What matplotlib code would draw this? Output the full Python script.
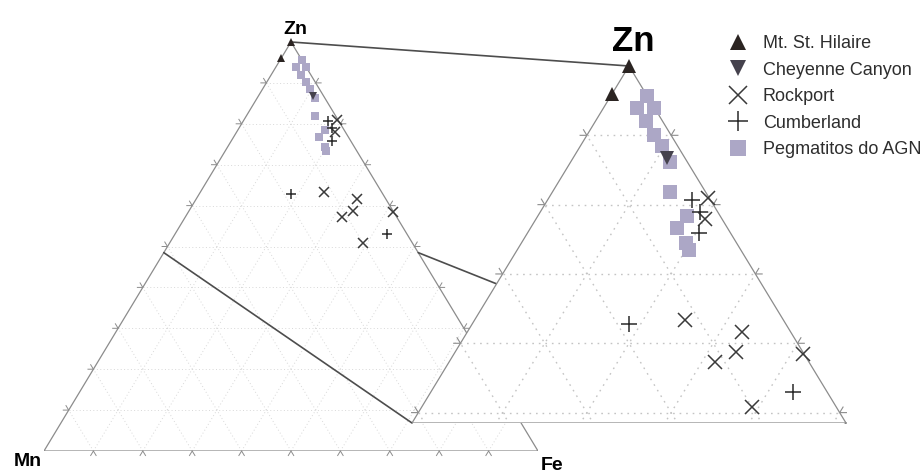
import numpy as np
import matplotlib.pyplot as plt
from matplotlib.lines import Line2D
from matplotlib.patches import Polygon, ConnectionPatch

plt.rcParams['font.family'] = ['Liberation Sans', 'DejaVu Sans']

# gahnite compositions, mol % (Zn, Fe, Mn)
hilaire_zn = [100.0, 96.0]
hilaire_fe = [0.0, 0.0]
hilaire_mn = [0.0, 4.0]

cheyenne_zn = [86.8]
cheyenne_fe = [11.1]
cheyenne_mn = [2.1]

rockport_zn = [81.0, 78.0, 63.3, 61.6, 58.7, 57.3, 58.4, 50.8]
rockport_fe = [18.9, 20.0, 25.0, 32.6, 33.3, 31.6, 41.4, 39.2]
rockport_mn = [0.1, 2.0, 11.7, 5.8, 8.0, 11.1, 0.2, 10.0]

cumberland_zn = [80.6, 79.0, 75.9, 62.8, 53.0]
cumberland_fe = [17.2, 18.9, 20.3, 18.6, 43.0]
cumberland_mn = [2.2, 2.1, 3.8, 18.6, 4.0]

agn_zn = [95.7, 94.0, 94.0, 92.0, 90.1, 88.4, 86.2, 81.8, 78.4, 76.7, 74.4, 73.4]
agn_fe = [4.3, 4.0, 6.0, 6.0, 7.9, 9.7, 11.8, 14.0, 17.7, 17.3, 19.6, 20.4]
agn_mn = [0.0, 2.0, 0.0, 2.0, 2.0, 1.9, 2.0, 4.2, 3.9, 6.0, 6.0, 6.2]

zn_min = 48.5  # lower Zn limit of the enlarged view


def tern_xy(zn, fe, mn):
    zn, fe, mn = (np.asarray(v, dtype=float) for v in (zn, fe, mn))
    tot = zn + fe + mn
    return (fe + zn / 2) / tot, zn / tot


def grid_segments():
    segs = []
    for k in range(1, 10):
        f = k / 10
        segs.append(((f / 2, 1 - f / 2), (f, f)))                   # const Zn
        segs.append(((f, f + (1 - f) / 2), (0, 1 - f)))             # const Fe
        segs.append(((1 - f, (1 - f) / 2), (0, 1 - f)))             # const Mn
    return segs


def draw_ticks(ax, levels, L, bottom=True, **kw):
    for z in levels:
        # left edge (Fe = 0)
        x0, y0 = z / 2, z
        ax.plot([x0 - L, x0, x0 - 0.5 * L], [y0, y0, y0 + L], **kw)
        # right edge (Mn = 0)
        x0 = 1 - z / 2
        ax.plot([x0 + L, x0, x0 + 0.5 * L], [y0, y0, y0 + L], **kw)
        if bottom:
            ax.plot([z - 0.5 * L, z, z + 0.5 * L], [-L, 0, -L], **kw)


# (Zn, Fe, Mn, style, label, size factor)
series = [
    (agn_zn, agn_fe, agn_mn, dict(marker='s', color='#aca7c6', mew=0), 'Pegmatitos do AGN', 1.0),
    (hilaire_zn, hilaire_fe, hilaire_mn, dict(marker='^', color='#2b2422', mew=0), 'Mt. St. Hilaire', 1.0),
    (cheyenne_zn, cheyenne_fe, cheyenne_mn, dict(marker='v', color='#45424d', mew=0), 'Cheyenne Canyon', 1.0),
    (rockport_zn, rockport_fe, rockport_mn, dict(marker='x', color='#3a3a3a', mew=1.1), 'Rockport', 1.05),
    (cumberland_zn, cumberland_fe, cumberland_mn, dict(marker='+', color='#2a2a2a', mew=1.1), 'Cumberland', 1.15),
]

fig = plt.figure(figsize=(9.24, 4.74), dpi=100)
W, H = 924, 474

edge_c = '#8c8c8c'

# ---- full diagram
ax = fig.add_axes([44 / W, 23 / H, 494 / W, 409 / H])
ax.set_xlim(0, 1)
ax.set_ylim(0, 1)
ax.axis('off')
ax.add_patch(Polygon([(0, 0), (1, 0), (0.5, 1)], closed=True, fill=False,
                     ec=edge_c, lw=0.9, zorder=2))
for xs, ys in grid_segments():
    ax.plot(xs, ys, color='#d8d8d8', lw=0.7, ls=(0, (1, 2.5)), zorder=1)
draw_ticks(ax, np.arange(1, 10) / 10, 0.011, color=edge_c, lw=0.7, clip_on=False)

for zn, fe, mn, st, lab, sz in series:
    x, y = tern_xy(zn, fe, mn)
    ax.plot(x, y, ls='none', ms=6.3 * sz, clip_on=False, zorder=4, **st)

ax.annotate('Zn', (0.5, 1), xytext=(3, 9), textcoords='offset points',
            ha='center', va='center', fontsize=14, fontweight='bold')
ax.annotate('Mn', (0, 0), xytext=(-11.5, -7.5), textcoords='offset points',
            ha='center', va='center', fontsize=14, fontweight='bold')
ax.annotate('Fe', (1, 0), xytext=(10, -10.3), textcoords='offset points',
            ha='center', va='center', fontsize=14, fontweight='bold')

# ---- enlarged Zn corner
z0 = zn_min / 100
corners = [(z0 / 2, z0), (1 - z0 / 2, z0), (0.5, 1)]

axi = fig.add_axes([412 / W, 51 / H, 434 / W, 357 / H])
axi.set_xlim(z0 / 2, 1 - z0 / 2)
axi.set_ylim(z0, 1)
axi.axis('off')
tri = Polygon(corners, closed=True, fc='white', ec=edge_c, lw=0.9, zorder=2)
axi.add_patch(tri)
for xs, ys in grid_segments():
    ln, = axi.plot(xs, ys, color='#c4c4c4', lw=1.0, ls=(0, (1.2, 3.5)), zorder=2.5)
    ln.set_clip_path(tri)
draw_ticks(axi, [0.5, 0.6, 0.7, 0.8, 0.9], 0.008, bottom=False,
           color=edge_c, lw=0.8, clip_on=False, zorder=3)

for zn, fe, mn, st, lab, sz in series:
    x, y = tern_xy(zn, fe, mn)
    axi.plot(x, y, ls='none', ms=9.5 * sz, clip_on=False, zorder=4, **st)

axi.annotate('Zn', (0.5, 1), xytext=(3, 17.3), textcoords='offset points',
             ha='center', va='center', fontsize=25, fontweight='bold')

# lines tying the sub-triangle to its enlargement
for c in corners:
    con = ConnectionPatch(xyA=c, coordsA=ax.transData, xyB=c, coordsB=axi.transData,
                          color='#4d4d4d', lw=1.2, zorder=3)
    ax.add_artist(con)
    con.set_clip_on(False)

# ---- legend
order = [1, 2, 3, 4, 0]
handles = [Line2D([], [], ls='none', ms=12 * series[i][5], **series[i][3]) for i in order]
labels = [series[i][4] for i in order]
fig.legend(handles, labels, loc='upper left', bbox_to_anchor=(729 / W, 1 - 35 / H),
           frameon=False, fontsize=13, labelcolor='#2e2e2e', handlelength=1.0,
           handletextpad=0.88, labelspacing=0.53, borderpad=0, borderaxespad=0)

fig.savefig('out.png', dpi=100)
